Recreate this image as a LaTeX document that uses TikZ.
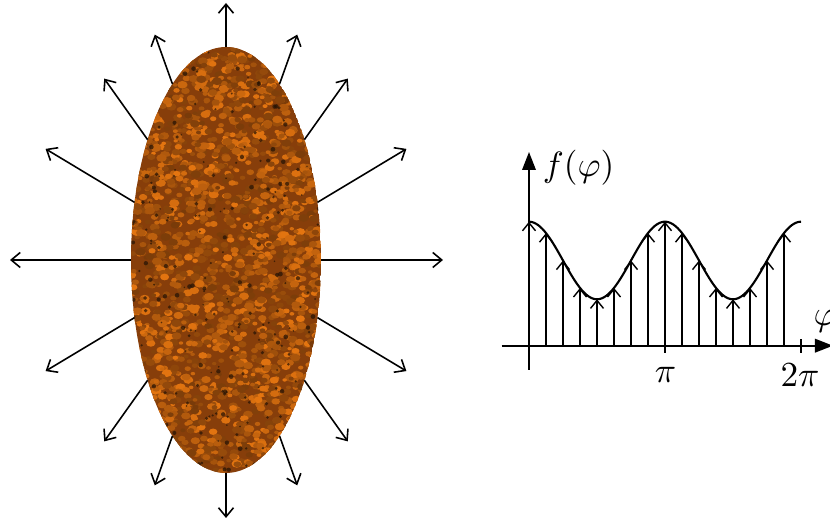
\documentclass[tikz,border=0pt]{standalone}
\usepackage{amsmath}
\usepackage{tikz}
\usetikzlibrary{arrows.meta}

\definecolor{blobbase}{RGB}{135,62,10}
\definecolor{bloblight}{RGB}{230,118,16}
\definecolor{blobdeep}{RGB}{85,40,7}
\definecolor{blobdark}{RGB}{35,18,5}

\tikzset{
  ray/.style={-{Straight Barb[length=0.9mm,width=1.5mm]},line width=0.45pt},
  axis/.style={-{Triangle[length=1.8mm,width=1.35mm]},line width=0.55pt},
  flux/.style={-{Straight Barb[length=0.8mm,width=1.3mm]},line width=0.4pt}
}

\begin{document}
\begin{tikzpicture}[x=0.01cm,y=0.01cm]
	\useasboundingbox (0,0) rectangle (830,525);
	\pgfmathsetseed{17}
	
	% the blob
	\coordinate (c) at (226,265);
	\begin{scope}
		\clip (c) ellipse [x radius=95, y radius=213];
		\fill[blobbase] (c) ellipse [x radius=95, y radius=213];
		\foreach \i in {1,...,2400}{
			\pgfmathsetmacro{\bx}{131+190*rnd}
			\pgfmathsetmacro{\by}{52+426*rnd}
			\pgfmathsetmacro{\br}{2.2+3*rnd}
			\pgfmathsetmacro{\bp}{int(25+75*rnd)}
			\fill[bloblight!\bp!blobdeep] (\bx,\by) ellipse [x radius=\br, y radius=0.75*\br];
		}
		\foreach \i in {1,...,280}{
			\pgfmathsetmacro{\bx}{131+190*rnd}
			\pgfmathsetmacro{\by}{52+426*rnd}
			\pgfmathsetmacro{\br}{0.8+1.6*rnd}
			\fill[blobdark,opacity=0.7] (\bx,\by) circle [radius=\br];
		}
	\end{scope}
	
	% rays
	\draw[ray] (131,265) -- (10,265);
	\draw[ray] (321,265) -- (443,265);
	\draw[ray] (226,478) -- (226,522);
	\draw[ray] (226,52) -- (226,7);
	\foreach \sx in {-1,1}
	\foreach \sy in {-1,1}
	\foreach \t/\b/\l in {15.7/31/103.8, 34.4/54.6/74.9, 55.7/70.3/52.5}
		\draw[ray] ({226+\sx*95*cos(\t)},{265+\sy*213*sin(\t)})
			-- ++({\sx*\l*cos(\b)},{\sy*\l*sin(\b)});
	
	% the graph
	\coordinate (o) at (529,179.3);
	\draw[axis] (501.7,179.3) -- (833,179.3);
	\draw[axis] (529,155) -- (529,373);
	\draw[line width=0.45pt] (665,172.3) -- (665,186.3);
	\draw[line width=0.45pt] (801,172.3) -- (801,186.3);
	\foreach \k in {0,...,15}
		\draw[flux] ({529+0.7556*22.5*\k},179.3) -- ({529+0.7556*22.5*\k},{264.5+38.8*cos(45*\k)});
	\draw[line width=0.6pt,domain=0:360,samples=120,smooth,variable=\a]
		plot ({529+0.7556*\a},{264.5+38.8*cos(2*\a)});
	
	\node (pi) at (665.5,150) {$\pi$};
	\node (twopi) at (800,150) {$2\pi$};
	\node (fphi) at (578.5,357.5) {$f(\varphi)$};
	\node (phi) at (825,204) {$\varphi$};
\end{tikzpicture}
\end{document}
